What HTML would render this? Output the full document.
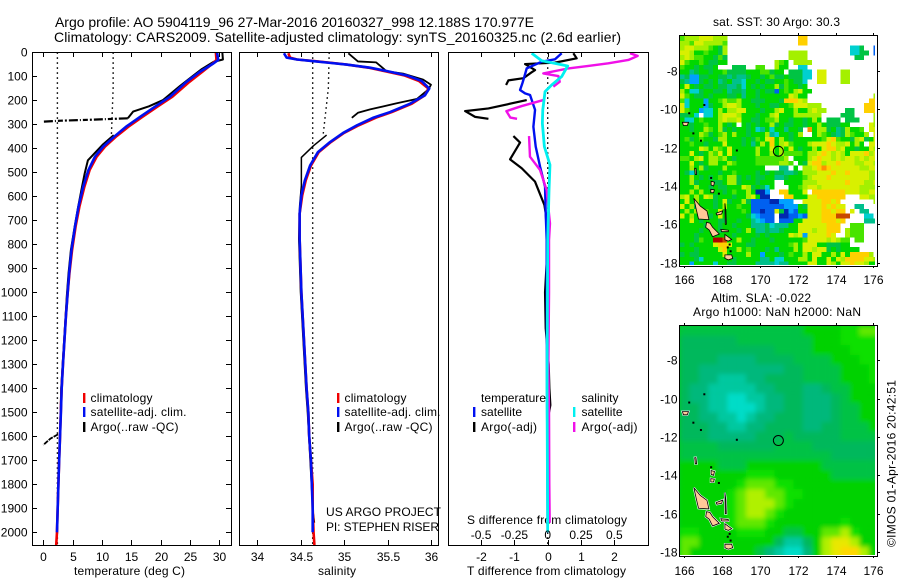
<!DOCTYPE html>
<html>
<head>
<meta charset="utf-8">
<title>Argo profile</title>
<style>
html,body{margin:0;padding:0;background:#fff;}
svg{display:block;}
text{font-family:"Liberation Sans",sans-serif;font-size:12px;fill:#000;}
</style>
</head>
<body>
<svg id="root" xmlns="http://www.w3.org/2000/svg" width="900" height="580" viewBox="0 0 900 580">
<defs>
<clipPath id="clipP1"><rect x="32" y="52" width="200" height="493"/></clipPath>
<clipPath id="clipP2"><rect x="239" y="52" width="200" height="493"/></clipPath>
<clipPath id="clipP3"><rect x="448" y="52" width="200" height="493"/></clipPath>
<clipPath id="clipM1"><rect x="680" y="36" width="195" height="229"/></clipPath>
<clipPath id="clipM2"><rect x="680" y="326" width="195" height="229"/></clipPath>
<filter id="smooth" x="-5%" y="-5%" width="110%" height="110%"><feGaussianBlur stdDeviation="2.5"/></filter>
</defs>
<rect x="0" y="0" width="900" height="580" fill="#fff"/>
<text x="55" y="27" font-size="14" style="font-size:14px" textLength="479">Argo profile: AO 5904119_96 27-Mar-2016 20160327_998 12.188S 170.977E</text>
<text x="54" y="42" font-size="14" style="font-size:14px" textLength="567">Climatology: CARS2009. Satellite-adjusted climatology: synTS_20160325.nc (2.6d earlier)</text>

<text x="74" y="575" textLength="111">temperature (deg C)</text>
<text x="318" y="575" textLength="38">salinity</text>
<text x="467" y="575" textLength="159">T difference from climatology</text>
<text x="467" y="524" textLength="160">S difference from climatology</text>

<text x="326" y="516" textLength="115">US ARGO PROJECT</text>
<text x="326" y="531" textLength="113">PI: STEPHEN RISER</text>

<text x="713" y="26" textLength="127">sat. SST: 30 Argo: 30.3</text>
<text x="711" y="302" textLength="100">Altim. SLA: -0.022</text>
<text x="693" y="316" textLength="168">Argo h1000: NaN h2000: NaN</text>
<text transform="translate(895.5,547) rotate(-90)" textLength="167">©IMOS 01-Apr-2016 20:42:51</text>
</svg>

<script>
// ---- Axis tick values ----
var depthTicks = [0,100,200,300,400,500,600,700,800,900,1000,1100,1200,1300,1400,1500,1600,1700,1800,1900,2000];
var tempTicks = [0,5,10,15,20,25,30];
var salTicks = [34,34.5,35,35.5,36];
var salTickLabels = ["34","34.5","35","35.5","36"];
var tDiffTicks = [-2,-1,0,1,2];
var sDiffTicks = [-0.5,-0.25,0,0.25,0.5];
var sDiffTickLabels = ["-0.5","-0.25","0","0.25","0.5"];
var lonTicks = [166,168,170,172,174,176];
var latTicks = [-8,-10,-12,-14,-16,-18];

// ---- Temperature panel ----
var tempDepth = [0,32,46,81,123,185,227,269,310,349,393,435,490,560,643,726,824,921,1018,1100,1200,1300,1400,1500,1600,1700,1800,1900,2000,2053];
var climTemp = [29.4,29.5,28.9,27.1,24.9,22,19.4,16.9,14.5,12.5,10.5,9.1,7.9,7,6.15,5.5,4.9,4.45,4.1,3.85,3.6,3.35,3.13,2.98,2.85,2.7,2.57,2.45,2.33,2.2];
var satDepth = [0,32,46,81,123,185,227,269,310,349,393,435,490,560,643,726,824,921,1018,1100,1200,1300,1400,1500,1600,1700,1800,1900,2000];
var satTemp = [29.6,29.8,29,26.7,24.4,21.6,19,16.5,14.1,12.2,10.2,8.8,7.7,6.8,6,5.4,4.8,4.4,4.1,3.85,3.6,3.35,3.13,3,2.85,2.7,2.57,2.45,2.33];
var argoTempDepthA = [0,30,40,70,100,140,199,225,247,275];
var argoTempA = [30.5,30.6,29,27,25.4,23.3,20.4,18,15.3,14.4];
var argoSpikeDepth = [275,281,285,289];
var argoSpikeTemp = [14.4,8,3,0];
var argoTempDepthB = [345,383,450,505,560,643,726,824,921,1018,1200,1400,1500];
var argoTempB = [12,10.2,7.6,7.05,6.6,5.95,5.35,4.7,4.3,4,3.55,3.05,2.95];
var argoTailDepth = [1592,1610,1636];
var argoTailTemp = [2.5,1.2,0];
var tempEnvLowDepth = [0,2053];
var tempEnvLow = [2.4,2.4];
var tempEnvHighDepth = [0,150,345];
var tempEnvHigh = [11.9,11.9,11.6];

// ---- Salinity panel ----
var salDepth = [4,22,30,37,44,51,64,78,96,119,151,179,214,249,272,304,336,374,416,472,534,596,672,776,1000,1200,1400,1500,1600,1700,1800,1900,2000];
var satSal = [34.31,34.34,34.46,34.65,34.84,35.03,35.3,35.49,35.72,35.89,35.98,35.93,35.76,35.53,35.34,35.15,34.99,34.84,34.7,34.61,34.55,34.51,34.49,34.49,34.51,34.54,34.57,34.59,34.6,34.62,34.63,34.64,34.64];
var climSalDepth = [4,22,30,37,44,51,64,78,96,119,151,179,214,249,272,304,336,374,416,472,534,596,672,776,1000,1200,1400,1500,1600,1700,1800,1900,2000,2053];
var climSal = [34.36,34.38,34.46,34.67,34.86,35.03,35.28,35.46,35.69,35.86,35.97,35.93,35.78,35.55,35.37,35.17,35.0,34.85,34.71,34.62,34.56,34.52,34.49,34.49,34.51,34.54,34.57,34.59,34.6,34.62,34.64,34.64,34.65,34.66];
var argoSalDepthA = [4,38,42,79,89,114,135,155,194,213,238,252,273];
var argoSalA = [35.05,35.16,35.37,35.49,35.68,35.91,36,35.97,35.84,35.6,35.3,35.16,35.09];
var argoSalDepthB = [345,389,438,556,640,776,1000,1400,1500,1900,1960];
var argoSalB = [34.8,34.65,34.51,34.51,34.49,34.48,34.5,34.56,34.58,34.64,34.66];
var salEnvLowDepth = [0,2053];
var salEnvLow = [34.64,34.64];
var salEnvHighDepth = [0,150,345];
var salEnvHigh = [34.83,34.82,34.76];

// ---- Difference panel ----
var tDiffDepth = [4,29,39,67,101,129,157,171,178,240,310,393,476,560,671,782,1000,1400,2000];
var satDiffT = [0.42,0.22,-0.18,-0.63,-0.7,-0.76,-0.83,-0.68,-0.53,-0.38,-0.43,-0.36,-0.23,-0.08,-0.06,-0.03,-0.03,-0.02,0];
var sDiffDepth = [4,35,46,57,101,136,164,240,296,393,469,574,782,1400,2000];
var satDiffS = [-0.12,-0.045,0.055,0.15,0.105,0.03,-0.02,-0.037,-0.04,-0.025,0.017,0.01,0,-0.005,0];
var argoDTDepthA = [4,25,43,49,74,85,108,117,136];
var argoDTA = [0.77,0.87,0.22,-0.68,-0.38,-0.5,-0.73,-1.18,-1.25];
var argoDTDepthB = [199,234,245,269,277];
var argoDTB = [-0.63,-1.78,-2.48,-2.18,-1.78];
var argoDTDepthC = [349,376,446,483,539,636,671,800,1000,1150,1300,1400,1470,1500];
var argoDTC = [-1.03,-0.83,-1.13,-0.78,-0.38,-0.1,-0.06,0,-0.08,-0.06,0.03,0.05,0.08,0.04];
var argoDSDepthA = [4,15,32,46,57,67,88,99,123,143];
var argoDSA = [0.617,0.675,0.605,0.455,0.305,0.155,-0.033,0.08,0.09,0.042];
var argoDSDepthB = [199,224,245,272,277];
var argoDSB = [-0.033,-0.195,-0.31,-0.28,-0.23];
var argoDSDepthC = [349,435,490,574,713,782,1000,1300,1500,1800,1960];
var argoDSC = [-0.14,-0.133,-0.058,-0.008,0.017,0.01,0.01,0.005,0.01,0.012,0.015];
var zeroDepth = [0,2053];
var zeroDiff = [0,0];

// ---- SST map cells: letters index the colour bands, '.' means no data ----
var sstRows = [
"hiiijjjiii...............kk...............",
"iihjjiiiih...............kk...............",
"ijjiiihgfi..........................ddf..b",
"jjigghggfi.............iiii.........ddff.b",
"ijihhggfhf.............iiii..........ff...",
"jhgghgffgg..........ihg.iiii..............",
"hggfgffg...fff..hh..igg..dd...............",
"ggefggfgghffffggghhfgg.fffdd.jj...ii......",
"efccffggffefeefggfghffgfffdd.jj...ii......",
"feccfgfgefgeedggfgffgghgffd..jj...ii......",
"gjgfgffgffeefdgfgfggifhggfg...............",
"igddfggffgeffeggfgffbghgijgg..............",
"jhgffgfgggffgeggfggggggjigg..............i",
"hdgggcgghihhiggfffgggfkkkji.............kk",
"jdgggcfggijjigggfggffgghjjjiii.........kkk",
"jhggcddgigiijjgggfggijggiggijii....ff..kkk",
"ffgd.ddgijjjigggfggijgggiiiiii....fff....i",
"gddghgggijiijggffghhiggfggfgig.fff.fff...i",
"ggfgghggigfg.gfgfggifgffggfggigfffgg....ji",
"ggfggihgifgfggfgdegdggeggf.lgiifgefiggh.jj",
"ggggihfghigiggfgggiedggfgi..gihgfefihggi.j",
"ghfghggfiigggfgfhgjkgigfgggggghjkhggfijfgj",
"gghggfgggjgggfgegigkgijhgggijjjkjiijgig.jj",
"ggggjigihgjgggggiggjgigjgfggigjkkijggfggji",
"ggjgfgihjgjgggggiggigihhhhgiijkjijigjjjkij",
"hhgijgiihigfgggghhhhhhi.gggijkjjijijjijijj",
"ggjgfgiiggihgggghhhhhiih.gfjkkijjkjjjiijji",
"ggigifgggigggggggg...ee.g.iijklkjjjjjjiijj",
"gfdfggggfgghggggfgfgffeefgiiijjjkjjkjjjjii",
"ggigfgfghgiifgfgffggeefggghijjjkjjjjjjjjii",
"ggifgggffgiifgggfggg..ggggiiijjjjjjkjjjiij",
"gggiggfgffgggjifgfdg...gghijjijjjjjjjjiiii",
"ggigiggggfghggigaac..kkgggj.kkkkkkkjjjiijj",
"ijgigjifgggfggijgaa...kkgggjjkkkkkk...jjii",
"gjgigggfgjfggifbbbbaaccc..jjjjkkjk.......i",
"jgifgggfgigghggbbbbbbbcccgfjjjkjkjj..ee...",
"gigifhggjgggghgbbabbjfacbggjjjkkjkk.j.ee..",
"jgigggfgjgggggfdcbbb.aabbcbjjjkkkmmm...dd.",
"ggjgfgggffggfggedcbb.bbbggjjjjkkkjk....eee.",
"gggggfggfggfgggeeefdeeeggjjjjjjkkk..hhh...",
"ggggfgggfgggfgigeefeefgggjjjijjkkk.ihhh...",
"gggfgggggggfggggfgfggggjijcjjjjkj..ihhh...",
"gggfhggnnmggiggfgggfgggggghjjjjijihh.hh...",
"fgfggggjkkjgggffggggggghigjjjggfffgg......",
"gggfggggjkggighgggfgegggigjjijjfgfgggg....",
"fgffgggggjggggiggcgggfghggigjjggigjgkkkki.",
"gggfdggggggfgggggeegddgggiigjggjgjikkkkjji",
"ggcggggdggffggggeeeedeeggggjjggjigjjkjjigg"
];

// ---- Sea level anomaly map cells: digits index the colour bands ----
var slaRows = [
"444444444444455556677",
"333333444444445556666",
"333333333344445555666",
"333322223333444455566",
"332222222223344445556",
"332211122333344445556",
"322111112233322344555",
"322110011223322234555",
"332110001223322234455",
"332211012233322234455",
"333221122333322334445",
"333222223334333334444",
"444433333344443333333",
"444444444444444433333",
"555544455555555444444",
"555555566655555544444",
"555555677766555555555",
"555556788776655555555",
"555556788876555555555",
"555556788765555555555",
"555556777655555556555",
"665555666554455778655",
"775555555531135899855",
"75555555421002589AA85"
];

// ---- Coastline shapes as lon,lat lists ----
var islandShapes = [
[[166.5,-14.64],[166.85,-15.05],[167.2,-15.3],[167.3,-15.75],[166.75,-15.72],[166.62,-15.16]],
[[167.18,-15.89],[167.36,-15.94],[167.5,-16.15],[167.85,-16.5],[167.5,-16.64],[167.32,-16.29],[167.13,-16.15]],
[[167.68,-15.42],[168.03,-15.29],[167.98,-15.46],[167.72,-15.51]],
[[168.15,-14.9],[168.2,-15.3],[168.22,-16],[168.17,-16]],
[[167.93,-16.26],[168.33,-16.3],[168.33,-16.38],[167.98,-16.38]],
[[168.15,-16.52],[168.51,-16.78],[168.33,-16.87],[168.15,-16.8]],
[[168.15,-17.59],[168.51,-17.59],[168.56,-17.77],[168.33,-17.85],[168.15,-17.77]],
[[167.42,-13.75],[167.6,-13.8],[167.55,-14],[167.42,-13.95]],
[[167.4,-14.17],[167.59,-14.2],[167.55,-14.35],[167.4,-14.35]],
[[165.9,-10.68],[166.22,-10.68],[166.16,-10.85],[165.95,-10.85]],
[[166.55,-13.08],[166.62,-13.08],[166.65,-13.4],[166.58,-13.4]]
];
var isletLon = [167.06,166.26,166.48,166.88,167.42,167.83,168.78,168.4,168.3,168.45];
var isletLat = [-9.78,-10.21,-11.26,-11.64,-13.58,-14.4,-12.15,-17.05,-17.2,-17.4];
var profileLon = [170.977];
var profileLat = [-12.188];

var sstColors = {a:"#0028b0",b:"#0060f0",c:"#00a0ff",d:"#00d0d0",e:"#00c08c",f:"#00c444",g:"#00d800",h:"#48e400",i:"#a4f000",j:"#d8f000",k:"#ffd000",l:"#ff9000",m:"#c84800",n:"#b00000"};
var slaColors = {"0":"#00dcc8","1":"#00c8a0","2":"#00b87c","3":"#00b85c","4":"#00c244","5":"#00d200","6":"#10e000","7":"#60e800","8":"#b0f000","9":"#e8e800","A":"#ffd800"};

// ---- Axis functions ----
function yD(d){return 52.3+d*0.24;}
function xT(v){return 43.3+v*5.87;}
function xS(v){return 257+(v-34)*87;}
function xDT(v){return 547.7+v*33.3;}
function xDS(v){return 547.7+v*133.3;}
function xLon(v){return 684.3+(v-166)*18.9;}
function yLat1(v){return 147.6+(-12-v)*19.2;}
function yLat2(v){return 436.9+(-12-v)*19.2;}

var svg = document.getElementById("root");
var NS = "http://www.w3.org/2000/svg";
function mk(tag,parent,attrs){
  var e=document.createElementNS(NS,tag);
  for(var k in attrs){e.setAttribute(k,attrs[k]);}
  parent.appendChild(e);
  return e;
}
function group(clip,name){
  var g=mk("g",svg,clip?{"clip-path":"url(#"+clip+")"}:{});
  
  
  return g;
}
function series(parent,xs,ys,xf,color,w,name,dash){
  var pts=[];
  for(var i=0;i<xs.length;i++){pts.push(xf(xs[i]).toFixed(2)+","+yD(ys[i]).toFixed(2));}
  var attrs={points:pts.join(" "),fill:"none",stroke:color,"stroke-width":w,"stroke-linejoin":"round"};
  if(dash){attrs["stroke-dasharray"]=dash;}
  var p=mk("polyline",parent,attrs);
  
  
  return p;
}
function label(x,y,str,anchor,name,len){
  var t=mk("text",svg,{x:x,y:y,"text-anchor":anchor||"start"});
  if(len){t.setAttribute("textLength",len);}
  t.textContent=str;
  
  
  return t;
}
function segs(parent,list,width,name){
  var d="";
  for(var i=0;i<list.length;i++){
    var s=list[i];
    d+="M"+s[0]+" "+s[1]+"L"+s[2]+" "+s[3];
  }
  var p=mk("path",parent,{d:d,stroke:"#000","stroke-width":width,fill:"none","shape-rendering":"crispEdges"});
  
  
  return p;
}
function frame(x0,x1,y0,y1,name){
  var r=mk("rect",svg,{x:x0,y:y0,width:x1-x0,height:y1-y0,fill:"none",stroke:"#000","stroke-width":1.2,"shape-rendering":"crispEdges"});
  
  
}
function legendMark(x,y,color,name){
  var r=mk("rect",svg,{x:x,y:y,width:2.4,height:10,fill:color});
  
  
}

// ---- Temperature panel drawing ----
var gp1=group("clipP1","temperature-plot");
series(gp1,tempEnvLow,tempEnvLowDepth,xT,"#000",1.4,"temperature-envelope-low","1.6 3.4");
series(gp1,tempEnvHigh,tempEnvHighDepth,xT,"#000",1.4,"temperature-envelope-high","1.6 3.4");
series(gp1,argoTempA,argoTempDepthA,xT,"#000",2,"argo-temperature-upper");
series(gp1,argoSpikeTemp,argoSpikeDepth,xT,"#000",2.2,"argo-temperature-spike","9 2 2 2 5 2 1 2");
series(gp1,argoTempB,argoTempDepthB,xT,"#000",2,"argo-temperature-lower");
series(gp1,argoTailTemp,argoTailDepth,xT,"#000",1.8,"argo-temperature-tail","5 1");
series(gp1,climTemp,tempDepth,xT,"#f00000",2.6,"climatology-temperature");
series(gp1,satTemp,satDepth,xT,"#0010f0",2.6,"satellite-temperature");
frame(32.5,231.5,52.5,545.5,"temperature-frame");
var t1=[];
tempTicks.forEach(function(v){var x=Math.round(xT(v))+.5;t1.push([x,52,x,57]);t1.push([x,545,x,540]);label(x,561,String(v),"middle","temperature-tick-label");});
depthTicks.forEach(function(v){var y=Math.round(yD(v))+.5;t1.push([32,y,37,y]);t1.push([231,y,226,y]);label(27.5,y+4,String(v),"end","depth-tick-label");});
segs(svg,t1,1,"temperature-ticks");
legendMark(83,393,"#f00000","legend-mark-climatology");
legendMark(83,407,"#0010f0","legend-mark-satellite");
legendMark(83,422,"#000","legend-mark-argo");
label(90.5,402,"climatology","start","legend-climatology",62);
label(90.5,416,"satellite-adj. clim.","start","legend-satellite",96);
label(90.5,431,"Argo(..raw -QC)","start","legend-argo",88);

// ---- Salinity panel drawing ----
var gp2=group("clipP2","salinity-plot");
series(gp2,salEnvLow,salEnvLowDepth,xS,"#000",1.4,"salinity-envelope-low","1.6 3.4");
series(gp2,salEnvHigh,salEnvHighDepth,xS,"#000",1.4,"salinity-envelope-high","1.6 3.4");
series(gp2,argoSalA,argoSalDepthA,xS,"#000",1.8,"argo-salinity-upper");
series(gp2,argoSalB,argoSalDepthB,xS,"#000",1.5,"argo-salinity-lower");
series(gp2,climSal,climSalDepth,xS,"#f00000",2.6,"climatology-salinity");
series(gp2,satSal,salDepth,xS,"#0010f0",2.6,"satellite-salinity");
frame(239.5,438.5,52.5,545.5,"salinity-frame");
var t2=[];
salTicks.forEach(function(v,i){var x=Math.round(xS(v))+.5;t2.push([x,52,x,57]);t2.push([x,545,x,540]);label(x,561,salTickLabels[i],"middle","salinity-tick-label");});
segs(svg,t2,1,"salinity-ticks");
legendMark(337,393,"#f00000","legend-mark-climatology-2");
legendMark(337,407,"#0010f0","legend-mark-satellite-2");
legendMark(337,422,"#000","legend-mark-argo-2");
label(344.5,402,"climatology","start","legend-climatology-2",62);
label(344.5,416,"satellite-adj. clim.","start","legend-satellite-2",96);
label(344.5,431,"Argo(..raw -QC)","start","legend-argo-2",88);

// ---- Difference panel drawing ----
var gp3=group("clipP3","difference-plot");
series(gp3,zeroDiff,zeroDepth,xDT,"#000",1.4,"zero-reference","1.6 3.4");
series(gp3,argoDTA,argoDTDepthA,xDT,"#000",2.2,"argo-t-diff-upper");
series(gp3,argoDTB,argoDTDepthB,xDT,"#000",2.2,"argo-t-diff-middle");
series(gp3,argoDTC,argoDTDepthC,xDT,"#000",2.2,"argo-t-diff-lower");
series(gp3,satDiffT,tDiffDepth,xDT,"#0010f0",2.4,"satellite-t-diff");
series(gp3,argoDSA,argoDSDepthA,xDS,"#f010e8",2.4,"argo-s-diff-upper");
series(gp3,argoDSB,argoDSDepthB,xDS,"#f010e8",2.4,"argo-s-diff-middle");
series(gp3,argoDSC,argoDSDepthC,xDS,"#f010e8",2.4,"argo-s-diff-lower");
series(gp3,satDiffS,sDiffDepth,xDS,"#00f0f0",2.8,"satellite-s-diff");
frame(448.5,648.5,52.5,545.5,"difference-frame");
var t3=[];
tDiffTicks.forEach(function(v){var x=Math.round(xDT(v))+.5;t3.push([x,52,x,57]);t3.push([x,545,x,540]);label(x,561,String(v),"middle","t-diff-tick-label");});
sDiffTicks.forEach(function(v,i){label(xDS(v),539,sDiffTickLabels[i],"middle","s-diff-tick-label");});
segs(svg,t3,1,"difference-ticks");
label(481,402,"temperature","start","legend-temperature-heading",65);
label(481,416,"satellite","start","legend-t-satellite",41);
label(481,431,"Argo(-adj)","start","legend-t-argo",56);
label(581.5,402,"salinity","start","legend-salinity-heading",37);
label(581.5,416,"satellite","start","legend-s-satellite",41);
label(581.5,431,"Argo(-adj)","start","legend-s-argo",56);
legendMark(473,407,"#0010f0","legend-mark-t-satellite");
legendMark(473,422,"#000","legend-mark-t-argo");
legendMark(573,407,"#00f0f0","legend-mark-s-satellite");
legendMark(573,422,"#f010e8","legend-mark-s-argo");

// ---- SST map drawing ----
var gm1=group("clipM1","sst-map");
sstRows.forEach(function(row,r){
  for(var c=0;c<row.length;c++){
    var col=sstColors[row.charAt(c)];
    if(!col){continue;}
    var cell=mk("rect",gm1,{x:(680+c*4.72).toFixed(2),y:(36+r*4.8).toFixed(2),width:4.8,height:4.9,fill:col,"shape-rendering":"crispEdges"});
    
    
  }
});

// ---- SLA map drawing ----
var gm2=group("clipM2","sla-map");
var slaBase=mk("rect",gm2,{x:670,y:316,width:215,height:250,fill:"#00cc20"});


var gf=mk("g",gm2,{filter:"url(#smooth)"});


slaRows.forEach(function(row,r){
  for(var c=0;c<row.length;c++){
    var cell=mk("rect",gf,{x:(680+c*9.44).toFixed(2),y:(326+r*9.6).toFixed(2),width:9.6,height:r==slaRows.length-1?20:9.8,fill:slaColors[row.charAt(c)]});
    
    
  }
});

// ---- Coastlines, profile marker, axes on both maps ----
function drawMap(g,yf,halo,suffix){
  islandShapes.forEach(function(shape){
    var pts=shape.map(function(p){return xLon(p[0]).toFixed(1)+","+yf(p[1]).toFixed(1);}).join(" ");
    if(halo){
      var h=mk("polygon",g,{points:pts,fill:"#fff",stroke:"#fff","stroke-width":2});
      
      
    }
    var s=mk("polygon",g,{points:pts,fill:"#ffc898",stroke:"#000","stroke-width":0.8});
    
    
  });
  isletLon.forEach(function(lon,i){
    var r=mk("rect",g,{x:xLon(lon)-1,y:yf(isletLat[i])-1,width:2,height:2,fill:"#000"});
    
    
  });
  profileLon.forEach(function(lon,i){
    var c=mk("circle",g,{cx:xLon(lon),cy:yf(profileLat[i]),r:5,fill:"none",stroke:"#000","stroke-width":1});
    
    
  });
}
drawMap(gm1,yLat1,false,"sst");
drawMap(gm2,yLat2,true,"sla");

frame(679.5,877.5,35.5,266.5,"sst-map-frame");
frame(679.5,877.5,325.5,556.5,"sla-map-frame");
var tm=[];
lonTicks.forEach(function(v){
  var x=Math.round(xLon(v))+.5;
  tm.push([x,35,x,33]);tm.push([x,266,x,268]);
  tm.push([x,325,x,323]);tm.push([x,556,x,558]);
  label(x,284,String(v),"middle","sst-lon-tick-label");
  label(x,575,String(v),"middle","sla-lon-tick-label");
});
latTicks.forEach(function(v){
  var y1=Math.round(yLat1(v))+.5;
  var y2=Math.round(yLat2(v))+.5;
  tm.push([877,y1,880,y1]);tm.push([877,y2,880,y2]);
  label(677.5,y1+4,String(v),"end","sst-lat-tick-label");
  label(677.5,y2+4,String(v),"end","sla-lat-tick-label");
});
segs(svg,tm,1,"map-ticks");
</script>
</body>
</html>
